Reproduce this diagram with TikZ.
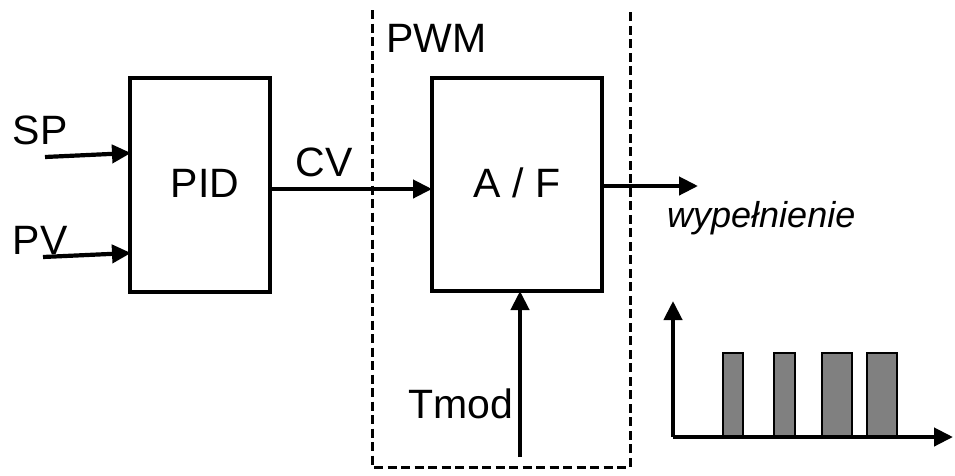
\documentclass[tikz,border=0pt]{standalone}
\usepackage{fontspec}
\setmainfont{Liberation Sans}
\usetikzlibrary{arrows.meta}
\begin{document}
\begin{tikzpicture}[x=1pt,y=-1pt,
  lbl/.style={font=\fontsize{41}{44}\selectfont, inner sep=0pt},
  blk/.style={draw, line width=3.2pt},
  arr/.style={line width=4.2pt, -{Triangle[length=19pt,width=18pt]}},
  dashbox/.style={line width=3pt, dash pattern=on 9pt off 4.5pt}]
\useasboundingbox (0,0) rectangle (955,475);
% boxes
\node[blk, minimum width=140pt, minimum height=214pt, inner sep=0pt] (pid) at (200,185) {};
\node[lbl] at (205,183) {PID};
\node[blk, minimum width=170pt, minimum height=213pt, inner sep=0pt] (af) at (517,184.5) {};
\node[lbl] at (517,183) {A / F};
\coordinate (pidL1) at (131,153);
\coordinate (pidL2) at (131,253);
\coordinate (pidR) at (270,189);
\coordinate (afL) at (432,189);
\coordinate (afR) at (602,186);
\coordinate (afB) at (520,291);
% dashed PWM region
\coordinate (d1) at (372,10);
\coordinate (d2) at (372,467);
\coordinate (d3) at (630,467);
\coordinate (d4) at (630,10);
\draw[dashbox] (d1) -- (d2) -- (d3) -- (d4);
\node[lbl, anchor=west] (pwm) at (386,38) {PWM};
% inputs
\coordinate (sp0) at (45,157);
\coordinate (pv0) at (43,257);
\draw[arr] (sp0) -- (pidL1);
\draw[arr] (pv0) -- (pidL2);
\node[lbl] (sp) at (40,130) {SP};
\node[lbl] (pv) at (40,240) {PV};
% CV
\draw[arr] (pidR) -- (afL);
\node[lbl] (cv) at (324,162) {CV};
% output
\coordinate (out) at (698,186);
\draw[arr] (afR) -- (out);
\node[font=\fontsize{36}{40}\selectfont\itshape, inner sep=0pt, anchor=base west] (wyp) at (667,227) {wypełnienie};
% Tmod
\coordinate (tm0) at (520,457);
\draw[arr] (tm0) -- (afB);
\node[lbl, anchor=east] (tmod) at (513,404) {Tmod};
% chart
\coordinate (o) at (673,437);
\coordinate (yt) at (673,301);
\coordinate (xt) at (953,437);
\foreach \a/\b in {723/743,774/795,822/852,867/897}
  \draw[line width=2.6pt, fill={rgb,255:red,128;green,128;blue,128}] (\a,437) rectangle (\b,353);
\draw[arr] (o) -- (yt);
\draw[arr] (o) -- (xt);
\end{tikzpicture}
\end{document}
